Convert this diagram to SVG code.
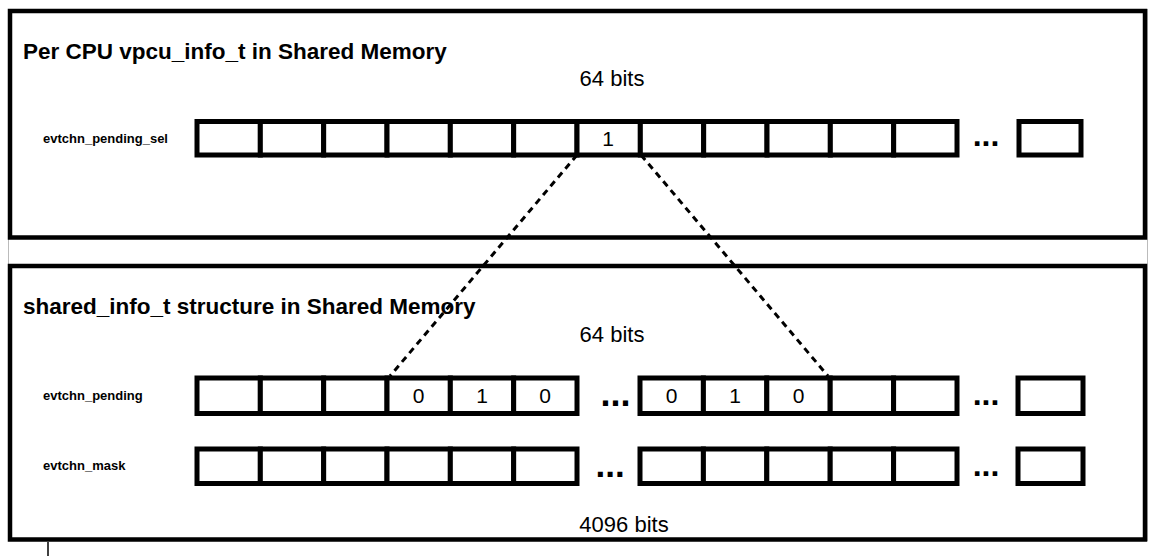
<svg xmlns="http://www.w3.org/2000/svg" width="1167" height="558" viewBox="0 0 1167 558">
<defs>
<style>
.frame{fill:none;stroke:#000;stroke-width:4.5}
.cell{fill:#fff;stroke:#000;stroke-width:5}
.title{font-family:"Liberation Sans",Arial,sans-serif;font-weight:bold;font-size:22.5px;fill:#000}
.lbl{font-family:"Liberation Sans",Arial,sans-serif;font-weight:bold;font-size:13px;fill:#000}
.bits{font-family:"Liberation Sans",Arial,sans-serif;font-size:22px;fill:#000;text-anchor:middle}
.val{font-family:"Liberation Sans",Arial,sans-serif;font-size:21px;fill:#000;text-anchor:middle}
.dots{font-family:"Liberation Sans",Arial,sans-serif;font-weight:bold;fill:#000}
.dash{fill:none;stroke:#000;stroke-width:3;stroke-dasharray:6.5 5}
</style>
</defs>
<rect x="0" y="0" width="1167" height="558" fill="#fff"/>
<rect x="8.5" y="9.5" width="1139" height="531" fill="#fff" stroke="#bbb" stroke-width="1"/>
<line x1="48" y1="542" x2="48" y2="556" stroke="#000" stroke-width="1.5"/>

<g id="vcpu-info-box">
<rect class="frame" x="10" y="11" width="1135" height="226.5"/>
<text class="title" x="23" y="59">Per CPU vpcu_info_t in Shared Memory</text>
<text class="bits" x="612" y="86">64 bits</text>
</g>

<g id="shared-info-box">
<rect class="frame" x="10" y="266" width="1135" height="273.5"/>
<text class="title" x="23" y="313.5">shared_info_t structure in Shared Memory</text>
<text class="bits" x="612" y="342">64 bits</text>
<text class="bits" x="624" y="532">4096 bits</text>
</g>

<g id="evtchn-pending-sel">
<text class="lbl" x="43" y="143">evtchn_pending_sel</text>
<rect class="cell" x="197" y="121.5" width="63.33" height="33.5"/>
<rect class="cell" x="260.33" y="121.5" width="63.33" height="33.5"/>
<rect class="cell" x="323.67" y="121.5" width="63.33" height="33.5"/>
<rect class="cell" x="387" y="121.5" width="63.33" height="33.5"/>
<rect class="cell" x="450.33" y="121.5" width="63.33" height="33.5"/>
<rect class="cell" x="513.67" y="121.5" width="63.33" height="33.5"/>
<rect class="cell" x="577" y="121.5" width="63.33" height="33.5"/>
<rect class="cell" x="640.33" y="121.5" width="63.33" height="33.5"/>
<rect class="cell" x="703.67" y="121.5" width="63.33" height="33.5"/>
<rect class="cell" x="767" y="121.5" width="63.33" height="33.5"/>
<rect class="cell" x="830.33" y="121.5" width="63.33" height="33.5"/>
<rect class="cell" x="893.67" y="121.5" width="63.33" height="33.5"/>
<rect class="cell" x="1019" y="121.5" width="62" height="33.5"/>
<text class="val" x="608" y="146">1</text>
<text class="dots" x="972.7" y="146" font-size="32">...</text>
</g>

<g id="evtchn-pending">
<text class="lbl" x="43" y="400">evtchn_pending</text>
<rect class="cell" x="197" y="378" width="63.33" height="35.5"/>
<rect class="cell" x="260.33" y="378" width="63.33" height="35.5"/>
<rect class="cell" x="323.67" y="378" width="63.33" height="35.5"/>
<rect class="cell" x="387" y="378" width="63.33" height="35.5"/>
<rect class="cell" x="450.33" y="378" width="63.33" height="35.5"/>
<rect class="cell" x="513.67" y="378" width="63.33" height="35.5"/>
<rect class="cell" x="640" y="378" width="63.4" height="35.5"/>
<rect class="cell" x="703.4" y="378" width="63.4" height="35.5"/>
<rect class="cell" x="766.8" y="378" width="63.4" height="35.5"/>
<rect class="cell" x="830.2" y="378" width="63.4" height="35.5"/>
<rect class="cell" x="893.6" y="378" width="63.4" height="35.5"/>
<rect class="cell" x="1018" y="378" width="65" height="35.5"/>
<text class="val" x="418.5" y="403">0</text>
<text class="val" x="482" y="403">1</text>
<text class="val" x="545" y="403">0</text>
<text class="val" x="671.5" y="403">0</text>
<text class="val" x="735" y="403">1</text>
<text class="val" x="798.5" y="403">0</text>
<text class="dots" x="600.4" y="406" font-size="36">...</text>
<text class="dots" x="972.7" y="405" font-size="32">...</text>
</g>

<g id="evtchn-mask">
<text class="lbl" x="43" y="470">evtchn_mask</text>
<rect class="cell" x="197" y="449" width="63.33" height="34.5"/>
<rect class="cell" x="260.33" y="449" width="63.33" height="34.5"/>
<rect class="cell" x="323.67" y="449" width="63.33" height="34.5"/>
<rect class="cell" x="387" y="449" width="63.33" height="34.5"/>
<rect class="cell" x="450.33" y="449" width="63.33" height="34.5"/>
<rect class="cell" x="513.67" y="449" width="63.33" height="34.5"/>
<rect class="cell" x="640" y="449" width="63.4" height="34.5"/>
<rect class="cell" x="703.4" y="449" width="63.4" height="34.5"/>
<rect class="cell" x="766.8" y="449" width="63.4" height="34.5"/>
<rect class="cell" x="830.2" y="449" width="63.4" height="34.5"/>
<rect class="cell" x="893.6" y="449" width="63.4" height="34.5"/>
<rect class="cell" x="1018" y="449" width="65" height="34.5"/>
<text class="dots" x="595.5" y="477" font-size="35">...</text>
<text class="dots" x="972.7" y="476" font-size="32">...</text>
</g>

<g id="connectors">
<line class="dash" x1="577" y1="155" x2="390" y2="376"/>
<line class="dash" x1="641" y1="155" x2="828" y2="376"/>
</g>
</svg>
